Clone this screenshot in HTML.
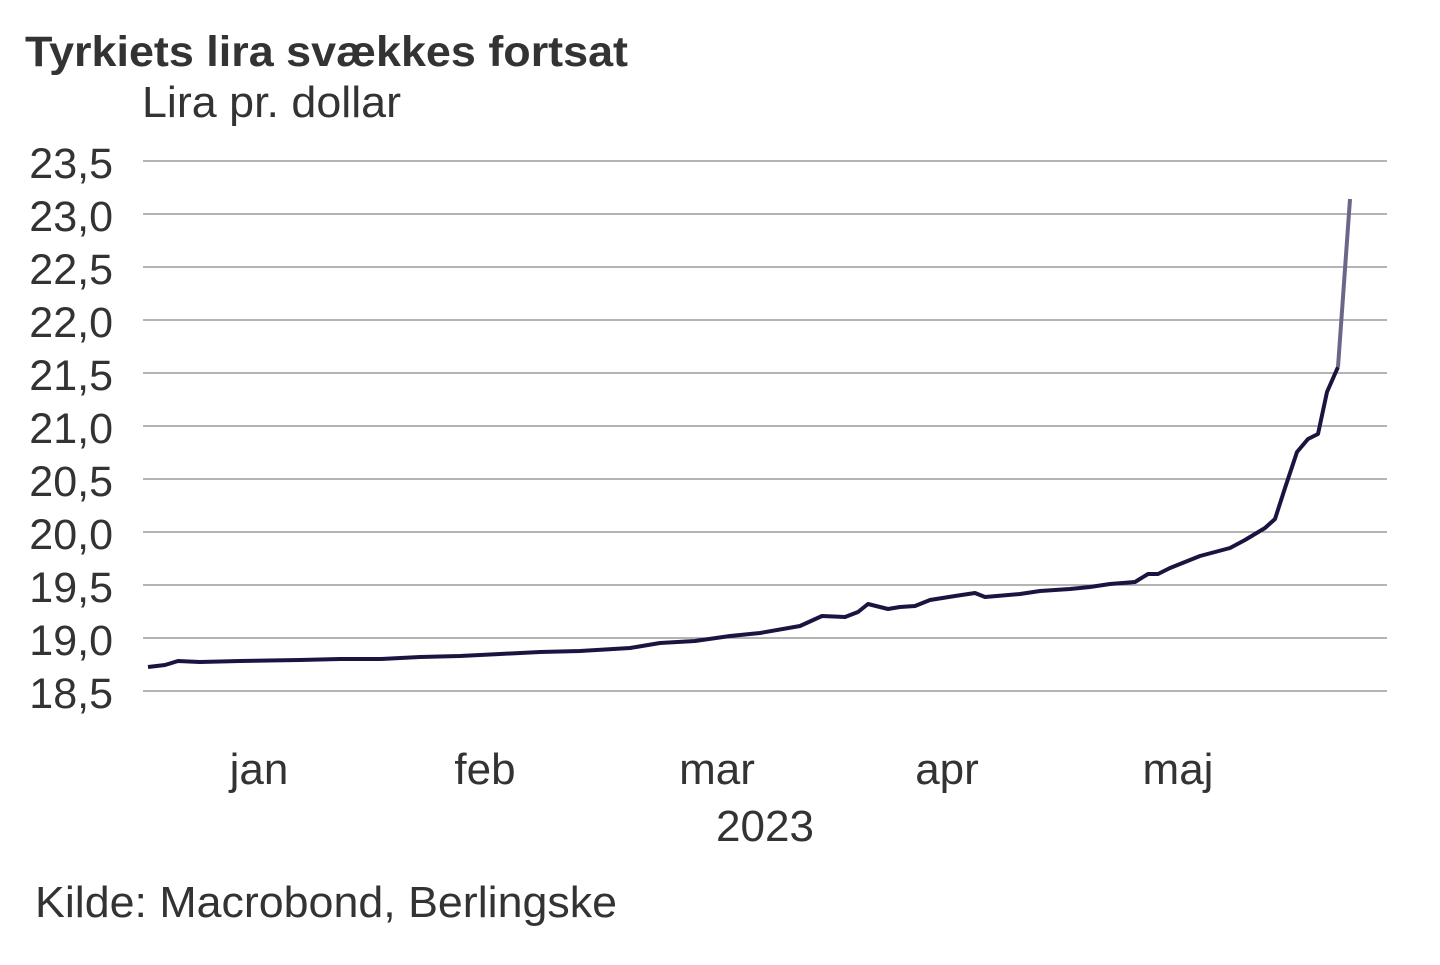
<!DOCTYPE html>
<html><head><meta charset="utf-8"><style>
body{margin:0;background:#fff;}
svg text{font-family:"Liberation Sans",sans-serif;fill:#333;}
</style></head><body>
<svg width="1440" height="960" xmlns="http://www.w3.org/2000/svg">
<rect width="1440" height="960" fill="#fff"/>
<text x="25" y="66" font-size="43" font-weight="bold" textLength="603" lengthAdjust="spacingAndGlyphs">Tyrkiets lira svækkes fortsat</text>
<text x="142" y="117" font-size="44" textLength="259" lengthAdjust="spacingAndGlyphs">Lira pr. dollar</text>
<g stroke="#888" stroke-width="1.3">
<line x1="143" x2="1387" y1="161" y2="161"/><line x1="143" x2="1387" y1="214" y2="214"/>
<line x1="143" x2="1387" y1="267" y2="267"/><line x1="143" x2="1387" y1="320" y2="320"/>
<line x1="143" x2="1387" y1="373" y2="373"/><line x1="143" x2="1387" y1="426" y2="426"/>
<line x1="143" x2="1387" y1="479" y2="479"/><line x1="143" x2="1387" y1="532" y2="532"/>
<line x1="143" x2="1387" y1="585" y2="585"/><line x1="143" x2="1387" y1="638" y2="638"/>
<line x1="143" x2="1387" y1="691" y2="691"/>
</g>
<g font-size="43" text-anchor="end">
<text x="113" y="178">23,5</text><text x="113" y="231">23,0</text><text x="113" y="284">22,5</text>
<text x="113" y="337">22,0</text><text x="113" y="390">21,5</text><text x="113" y="443">21,0</text>
<text x="113" y="496">20,5</text><text x="113" y="549">20,0</text><text x="113" y="602">19,5</text>
<text x="113" y="655">19,0</text><text x="113" y="708">18,5</text>
</g>
<g font-size="44" text-anchor="middle">
<text x="259" y="784">jan</text><text x="485" y="784">feb</text><text x="717" y="784">mar</text>
<text x="947" y="784">apr</text><text x="1178" y="784">maj</text><text x="765" y="841">2023</text>
</g>
<text x="35" y="917" font-size="44" textLength="582" lengthAdjust="spacingAndGlyphs">Kilde: Macrobond, Berlingske</text>
<polyline fill="none" stroke="#1a1540" stroke-width="4" stroke-linejoin="round" points="148,667 165,665 178,661 200,662 240,661 300,660 340,659 380,659 420,657 460,656 500,654 540,652 580,651 630,648 660,643 695,641 730,636 760,633 800,626 822,616 845,617 858,612 868,604 888,609 900,607 915,606 930,600 955,596 975,593 985,597 1020,594 1040,591 1070,589 1090,587 1110,584 1135,582 1148,574 1158,574 1170,568 1190,560 1200,556 1215,552 1230,548 1245,540 1255,534 1265,528 1275,519 1285,488 1297,452 1308,439 1318,434 1327,392 1338,367"/>
<line x1="1338" y1="367" x2="1350" y2="199" stroke="#6a6788" stroke-width="4"/>
</svg>
</body></html>
